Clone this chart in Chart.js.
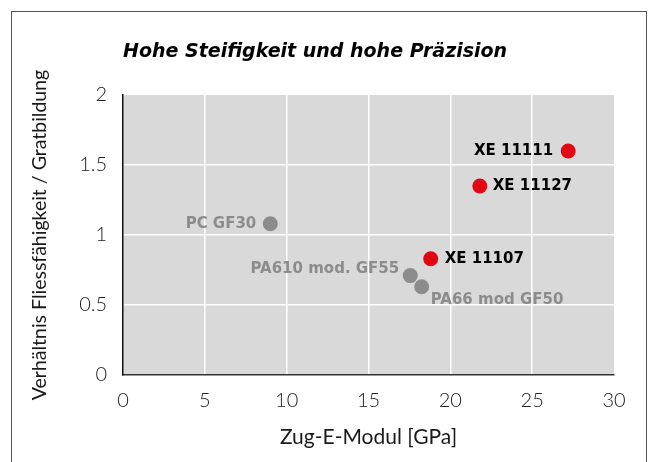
<!DOCTYPE html>
<html>
<head>
<meta charset="utf-8">
<script src="https://cdn.jsdelivr.net/npm/chart.js@4/dist/chart.umd.min.js"></script>
<style>
  html, body { margin: 0; padding: 0; background: #fff; }
  #wrap { position: relative; width: 649px; height: 462px; overflow: hidden; }
  #frame { position: absolute; left: 11px; top: 11px; width: 636px; height: 470px; border: 1px solid #555; box-sizing: border-box; }
  canvas { position: absolute; left: 0; top: 0; }
</style>
</head>
<body>
<div id="wrap">
  <div id="frame"></div>
  <canvas id="chart" width="649" height="462"></canvas>
</div>
<script>
// Materialien
const xeNames = ['XE 11111', 'XE 11127', 'XE 11107'];
const xeModulus = [27.2, 21.8, 18.8];
const xeRatio = [1.6, 1.35, 0.83];

const refNames = ['PC GF30', 'PA610 mod. GF55', 'PA66 mod GF50'];
const refModulus = [9.0, 17.55, 18.25];
const refRatio = [1.08, 0.71, 0.63];

const xTicks = [0, 5, 10, 15, 20, 25, 30];
const yTicks = [0, 0.5, 1, 1.5, 2];

// label placement (dx, dy from the point, align)
const labelPos = {
  'XE 11111': [-15, 0, 'right'],
  'XE 11127': [13, 0, 'left'],
  'XE 11107': [14, 0, 'left'],
  'PC GF30': [-14, 0, 'right'],
  'PA610 mod. GF55': [-11, -6, 'right'],
  'PA66 mod GF50': [9, 13, 'left']
};

const RED = '#e30613';
const GREY = '#8c8c8c';
const lightFont = "Lato, 'Open Sans', sans-serif";

const toPoints = (xs, ys) => xs.map((x, i) => ({ x: x, y: ys[i] }));

const pointLabels = {
  id: 'pointLabels',
  afterDatasetsDraw(chart) {
    const ctx = chart.ctx;
    ctx.save();
    ctx.font = "bold 15px 'DejaVu Sans', sans-serif";
    ctx.textBaseline = 'middle';
    chart.data.datasets.forEach((ds, di) => {
      chart.getDatasetMeta(di).data.forEach((pt, i) => {
        const name = ds.names[i];
        const p = labelPos[name];
        ctx.fillStyle = ds.labelColor;
        ctx.textAlign = p[2];
        ctx.fillText(name, pt.x + p[0], pt.y + p[1]);
      });
    });
    ctx.restore();
  }
};

const bigTitle = {
  id: 'bigTitle',
  afterDraw(chart) {
    const ctx = chart.ctx;
    ctx.save();
    ctx.font = "italic bold 19px 'DejaVu Sans', sans-serif";
    ctx.fillStyle = '#000';
    ctx.textAlign = 'left';
    ctx.textBaseline = 'alphabetic';
    ctx.fillText('Hohe Steifigkeit und hohe Präzision', chart.chartArea.left, 57);
    ctx.restore();
  }
};

const plotBg = {
  id: 'plotBg',
  beforeDraw(chart) {
    const a = chart.chartArea;
    chart.ctx.save();
    chart.ctx.fillStyle = '#d9d9d9';
    chart.ctx.fillRect(a.left, a.top, a.right - a.left, a.bottom - a.top);
    chart.ctx.restore();
  }
};

new Chart(document.getElementById('chart'), {
  type: 'scatter',
  data: {
    datasets: [
      {
        label: 'Vergleich',
        names: refNames,
        labelColor: GREY,
        data: toPoints(refModulus, refRatio),
        backgroundColor: GREY,
        borderWidth: 0,
        pointRadius: 7.5,
        pointHoverRadius: 7.5
      },
      {
        label: 'XE',
        names: xeNames,
        labelColor: '#000',
        data: toPoints(xeModulus, xeRatio),
        backgroundColor: RED,
        borderWidth: 0,
        pointRadius: 7.5,
        pointHoverRadius: 7.5
      }
    ]
  },
  options: {
    responsive: false,
    animation: false,
    layout: { padding: { top: 95, right: 35, left: 0, bottom: 0 } },
    plugins: {
      legend: { display: false },
      tooltip: { enabled: false }
    },
    scales: {
      x: {
        type: 'linear',
        min: 0, max: 30,
        afterBuildTicks: s => { s.ticks = xTicks.map(v => ({ value: v })); },
        afterFit: s => { s.height = 87; },
        grid: {
          color: ctx => (ctx.tick && (ctx.tick.value === 0 || ctx.tick.value === 30)) ? 'rgba(0,0,0,0)' : '#fff',
          lineWidth: 1.5,
          drawTicks: false
        },
        border: { color: '#333', width: 1.5 },
        ticks: { color: '#222', padding: 14, font: { family: lightFont, size: 20, weight: 300 } },
        title: {
          display: true,
          text: 'Zug-E-Modul [GPa]',
          color: '#1a1a1a',
          font: { family: lightFont, size: 21, weight: 400, lineHeight: 1 },
          padding: { bottom: 14 }
        }
      },
      y: {
        type: 'linear',
        min: 0, max: 2,
        afterBuildTicks: s => { s.ticks = yTicks.map(v => ({ value: v })); },
        afterFit: s => { s.width = 123; },
        grid: {
          color: ctx => (ctx.tick && (ctx.tick.value === 0 || ctx.tick.value === 2)) ? 'rgba(0,0,0,0)' : '#fff',
          lineWidth: 1.5,
          drawTicks: false
        },
        border: { color: '#111', width: 1.5 },
        ticks: {
          color: '#222',
          padding: 16,
          font: { family: lightFont, size: 20, weight: 300 },
          callback: v => String(v)
        },
        title: {
          display: true,
          text: 'Verhältnis Fliessfähigkeit / Gratbildung',
          color: '#1a1a1a',
          font: { family: lightFont, size: 19.5, weight: 400, lineHeight: 1 },
          padding: { top: 30 }
        }
      }
    }
  },
  plugins: [plotBg, pointLabels, bigTitle]
});
</script>
</body>
</html>
